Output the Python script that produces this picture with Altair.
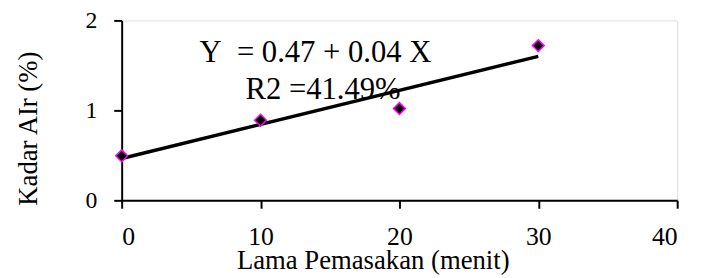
import altair as alt
import pandas as pd

lama = [0, 10, 20, 30]
kadar = [0.495, 0.89, 1.02, 1.72]

# Regression line endpoints
fit_x = [0, 30]
fit_y = [0.465, 1.60]

# Annotation text
ann_text = ["Y\u00a0 = 0.47 + 0.04 X", "R2 =41.49%"]
ann_x = [13.95, 14.5]
ann_y = [1.64, 1.23]

x_ticks = [0, 10, 20, 30, 40]
y_ticks = [0.0, 1.0, 2.0]

FONT = "Liberation Serif"

pts = pd.DataFrame({"x": lama, "y": kadar})
fit = pd.DataFrame({"x": fit_x, "y": fit_y})
ann = pd.DataFrame({"x": ann_x, "y": ann_y, "t": ann_text})

xs = alt.Scale(domain=[0, 40], nice=False, zero=False)
ys = alt.Scale(domain=[0, 2], nice=False)

x_axis = alt.Axis(
    values=x_ticks, grid=False, title="Lama Pemasakan (menit)",
    labelExpr="'' + round(datum.value)",
    domainColor="black", domainWidth=2, tickColor="black", tickWidth=2, tickSize=8,
    labelFont=FONT, labelFontSize=26, labelColor="black", labelPadding=16,
    titleFont=FONT, titleFontSize=27, titleFontWeight="normal", titleColor="black",
    titleX=254, titleY=69, titleBaseline="alphabetic", titleAlign="center",
)
y_axis = alt.Axis(
    values=y_ticks, grid=False, title="Kadar AIr (%)",
    labelExpr="'' + round(datum.value)", labelOverlap=False,
    domainColor="black", domainWidth=2, tickColor="black", tickWidth=2, tickSize=8,
    labelFont=FONT, labelFontSize=24, labelColor="black", labelPadding=17,
    titleFont=FONT, titleFontSize=27, titleFontWeight="normal", titleColor="black",
    titleX=-86, titleY=109, titleAngle=270, titleBaseline="alphabetic", titleAlign="center",
)

line = alt.Chart(fit).mark_line(color="black", strokeWidth=3.5).encode(
    x=alt.X("x:Q", scale=xs, axis=x_axis),
    y=alt.Y("y:Q", scale=ys, axis=y_axis),
)

points = alt.Chart(pts).mark_point(
    shape="diamond", filled=True, fill="black", stroke="#ff00ff", strokeWidth=1.5,
    size=144, opacity=1,
).encode(x=alt.X("x:Q", scale=xs), y=alt.Y("y:Q", scale=ys))

text = alt.Chart(ann).mark_text(
    font=FONT, fontSize=31, color="black", align="center", baseline="middle"
).encode(x=alt.X("x:Q", scale=xs), y=alt.Y("y:Q", scale=ys), text="t:N")

chart = (line + points + text).properties(
    width=562, height=182,
    autosize=alt.AutoSizeParams(type="none"),
    padding={"left": 115, "top": 11, "right": 17, "bottom": 76},
).configure_view(stroke=None).configure(background="white")

chart.save("out.html", embed_options={"renderer": "svg", "actions": False})
